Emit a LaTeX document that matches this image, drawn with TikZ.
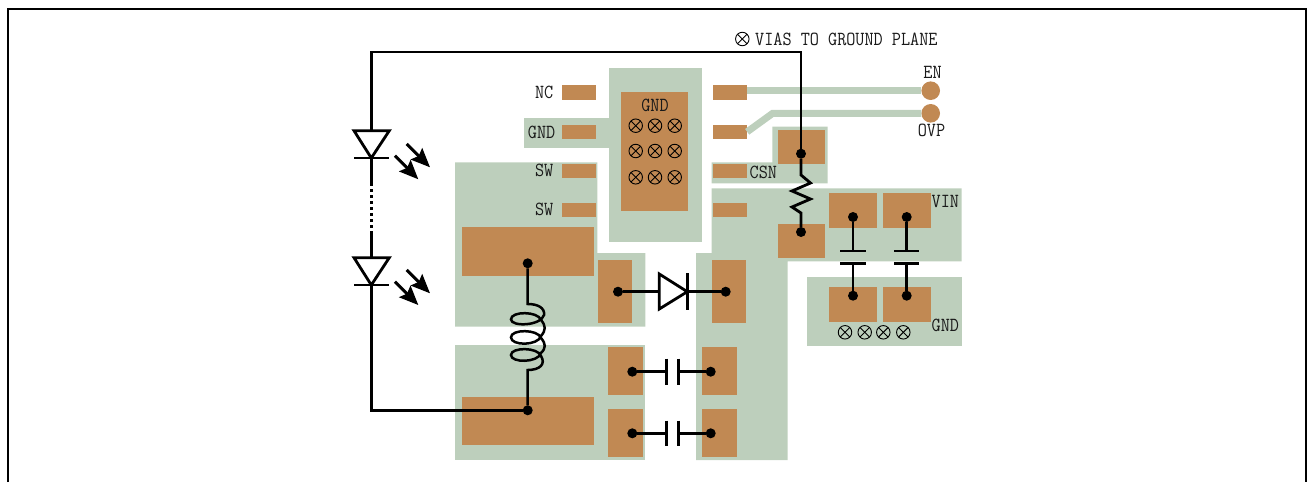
\documentclass[tikz,border=0pt]{standalone}
\usepackage{fontspec}
\setmonofont[FakeStretch=0.885]{Latin Modern Mono}
\usetikzlibrary{arrows.meta}
\definecolor{plane}{RGB}{189,207,188}
\definecolor{copper}{RGB}{193,137,83}
\tikzset{
	pad/.style={fill=copper,inner sep=0pt,outer sep=0pt},
	lead/.style={pad,minimum width=34.3pt,minimum height=14.5pt},
	padtall/.style={pad,minimum width=34pt,minimum height=63.3pt},
	padcap/.style={pad,minimum width=34.7pt,minimum height=48pt},
	padbig/.style={pad,minimum width=132pt,minimum height=48.5pt},
	padres/.style={pad,minimum width=47.3pt,minimum height=33.7pt},
	padvin/.style={pad,minimum width=48pt,minimum height=35pt},
	test/.style={pad,circle,minimum size=18.6pt},
	via/.style={circle,draw,line width=0.9pt,inner sep=0pt,minimum size=13.5pt,path picture={\draw[line width=0.9pt] (path picture bounding box.north west)--(path picture bounding box.south east);\draw[line width=0.9pt] (path picture bounding box.north east)--(path picture bounding box.south west);}},
	dot/.style={circle,fill=black,inner sep=0pt,outer sep=0pt,minimum size=10pt},
	lab/.style={inner sep=0pt,font=\fontsize{20}{20}\selectfont\ttfamily,text=black!90},
	wire/.style={line width=2.8pt,line join=miter},
	trace/.style={plane,line width=7pt},
	light/.style={line width=3pt,-{Stealth[length=19pt,width=16pt,inset=3pt]}}
}
\begin{document}
\begin{tikzpicture}[x=1pt,y=-1pt]
	\useasboundingbox (0,0) rectangle (1308,482);
	\draw[line width=2.4pt] (8,482)--(8,9)--(1306,9)--(1306,482);

	\fill[plane] (609,67.7) rectangle (701.7,241.7);
	\fill[plane] (524.3,118) rectangle (609,148);
	\fill[plane] (455,162.3)--(597.3,162.3)--(597.3,253)--(645.3,253)--(645.3,326.7)--(455,326.7)--cycle;
	\fill[plane] (455,344.7) rectangle (645.3,460);
	\fill[plane] (711.7,162.3)--(772.3,162.3)--(772.3,126.7)--(827.7,126.7)--(827.7,183.3)--(711.7,183.3)--cycle;
	\fill[plane] (711.7,188.3)--(961.7,188.3)--(961.7,261.3)--(787.7,261.3)--(787.7,460)--(696,460)--(696,253)--(711.7,253)--cycle;
	\fill[plane] (806.7,277) rectangle (962,346);

	\node[lead] (nc) at (579,92.7) {};
	\node[lead] (gndl) at (579,131.8) {};
	\node[lead] (swa) at (579,170.8) {};
	\node[lead] (swb) at (579,210) {};
	\node[lead] (enl) at (730,92.7) {};
	\node[lead] (ovpl) at (730,131.8) {};
	\node[lead] (csnl) at (730,170.8) {};
	\node[lead] (vinl) at (730,210) {};
	\node[pad,minimum width=67pt,minimum height=118.7pt] (gndc) at (654.5,151.3) {};
	\node[padbig] (swbig) at (527.7,251.3) {};
	\node[padbig] (outbig) at (527.7,421) {};
	\node[padtall] (dioa) at (615.3,291.7) {};
	\node[padtall] (diob) at (729,291.7) {};
	\node[padcap] (capa) at (625.5,371.3) {};
	\node[padcap] (capb) at (625.5,433.3) {};
	\node[padcap] (capc) at (719.7,371.3) {};
	\node[padcap] (capd) at (719.7,433.3) {};
	\node[padres] (rest) at (801.3,146.8) {};
	\node[padres] (resb) at (801.3,241.2) {};
	\node[padvin] (vina) at (853,210.2) {};
	\node[padvin] (vinb) at (906.7,210.2) {};
	\node[padvin] (gnda) at (853,304.7) {};
	\node[padvin] (gndb) at (906.7,304.7) {};
	\node[test] (en) at (930.7,90.7) {};
	\node[test] (ovp) at (930.7,113.3) {};
	\draw[trace] (enl.east|-en.west)--(en.west);
	\draw[trace] (ovpl.east)--(772.7,113.3)--(ovp.west);

	\node[via] (key) at (742.3,39) {};
	\node[via] (va) at (635.7,125.7) {};
	\node[via] (vb) at (655,125.7) {};
	\node[via] (vc) at (674.7,125.7) {};
	\node[via] (vd) at (635.7,151) {};
	\node[via] (ve) at (655,151) {};
	\node[via] (vf) at (674.7,151) {};
	\node[via] (vg) at (635.7,177.3) {};
	\node[via] (vh) at (655,177.3) {};
	\node[via] (vi) at (674.7,177.3) {};
	\node[via] (vj) at (845,332.3) {};
	\node[via] (vk) at (864.7,332.3) {};
	\node[via] (vl) at (883.3,332.3) {};
	\node[via] (vm) at (903.3,332.3) {};

	\node[lab,anchor=west] (vias) at (755,39) {VIAS TO GROUND PLANE};
	\node[lab,anchor=east] (lnc) at (553.5,92) {NC};
	\node[lab,anchor=east] (lgnd) at (555.5,132.5) {GND};
	\node[lab,anchor=east] (lswa) at (553.5,170.5) {SW};
	\node[lab,anchor=east] (lswb) at (553.5,209.5) {SW};
	\node[lab] (lgndc) at (655,105) {GND};
	\node[lab] (len) at (932.5,72.5) {EN};
	\node[lab] (lovp) at (931.5,130.5) {OVP};
	\node[lab,anchor=west] (lcsn) at (749.5,172) {CSN};
	\node[lab,anchor=west] (lvin) at (931.5,201.5) {VIN};
	\node[lab,anchor=west] (lgnd2) at (931.5,325) {GND};

	\node[dot] (da) at (801,153.7) {};
	\node[dot] (db) at (801,232) {};
	\node[dot] (dc) at (853,217) {};
	\node[dot] (dd) at (906.7,217) {};
	\node[dot] (de) at (853,295.7) {};
	\node[dot] (df) at (906.7,295.7) {};
	\node[dot] (dg) at (618,291.7) {};
	\node[dot] (dh) at (725.7,291.7) {};
	\node[dot] (di) at (632.3,371.7) {};
	\node[dot] (dj) at (710.7,371.7) {};
	\node[dot] (dk) at (632.3,433.3) {};
	\node[dot] (dl) at (710.7,433.3) {};
	\node[dot] (dm) at (527.7,263.3) {};
	\node[dot] (dn) at (527.7,410.3) {};

	\coordinate (ledat) at (371.3,130.7);
	\coordinate (ledak) at (371.3,158);
	\coordinate (ledbt) at (371.3,257.7);
	\coordinate (ledbk) at (371.3,285);
	\coordinate (gapa) at (371.3,183);
	\coordinate (gapb) at (371.3,233);

	\draw[wire] (da)--(801,52)--(371.3,52)--(ledat);
	\draw[wire] (354,130.7)--(389.3,130.7)--(ledak)--cycle;
	\draw[wire] (354,158)--(389.3,158);
	\draw[wire] (ledak)--(gapa);
	\draw[wire,dash pattern=on 3pt off 3pt] (gapa)--(gapb);
	\draw[wire] (gapb)--(ledbt);
	\draw[wire] (354,257.7)--(389.3,257.7)--(ledbk)--cycle;
	\draw[wire] (354,285)--(389.3,285);
	\draw[wire] (ledbk)--(371.3,410.3)--(dn);

	\draw[light] (406.7,144)--(430,167.3);
	\draw[light] (395,155.7)--(418.3,179.3);
	\draw[light] (406.7,270)--(430,293.3);
	\draw[light] (395,281.7)--(418.3,305);

	\draw[wire] (da)--(801,175)--(810.5,183)--(792,191)--(810.5,199)--(792,207)--(801,213)--(db);

	\draw[wire,line width=2.5pt] (dm)--(527.7,304) .. controls (538,304) and (545,308) .. (544,315) .. controls (541,326) and (511,327) .. (511,319.3) .. controls (511,311) and (538,311) .. (541,320) .. controls (546,326) and (546,330) .. (541,336) .. controls (538,346) and (511,346) .. (511,337.3) .. controls (511,329) and (538,329) .. (541,338) .. controls (546,344) and (546,348) .. (541,353) .. controls (538,363) and (511,363) .. (511,355) .. controls (511,347) and (538,347) .. (541,356) .. controls (546,364) and (540,370) .. (527.7,370)--(dn);

	\coordinate (ca) at (853,251);
	\coordinate (cb) at (853,263.3);
	\coordinate (cc) at (906.7,251);
	\coordinate (cd) at (906.7,263.3);
	\draw[wire] (dc)--(ca);
	\draw[wire] (840.3,251)--(865.7,251);
	\draw[wire] (840.3,263.3)--(865.7,263.3);
	\draw[wire] (cb)--(de);
	\draw[wire] (dd)--(cc);
	\draw[wire] (894,251)--(919.4,251);
	\draw[wire] (894,263.3)--(919.4,263.3);
	\draw[wire] (cd)--(df);

	\coordinate (dioin) at (659.3,291.7);
	\coordinate (dioout) at (687.3,291.7);
	\draw[wire] (dg)--(dioin);
	\draw[wire] (659.3,274)--(dioout)--(659.3,309)--cycle;
	\draw[wire] (687.3,273.3)--(687.3,310);
	\draw[wire] (dioout)--(dh);

	\coordinate (cea) at (666.7,371.7);
	\coordinate (ceb) at (678.7,371.7);
	\coordinate (cfa) at (666.7,433.3);
	\coordinate (cfb) at (678.7,433.3);
	\draw[wire] (di)--(cea);
	\draw[wire] (666.7,358.7)--(666.7,384.5);
	\draw[wire] (678.7,358.7)--(678.7,384.5);
	\draw[wire] (ceb)--(dj);
	\draw[wire] (dk)--(cfa);
	\draw[wire] (666.7,420.5)--(666.7,446);
	\draw[wire] (678.7,420.5)--(678.7,446);
	\draw[wire] (cfb)--(dl);
\end{tikzpicture}
\end{document}
